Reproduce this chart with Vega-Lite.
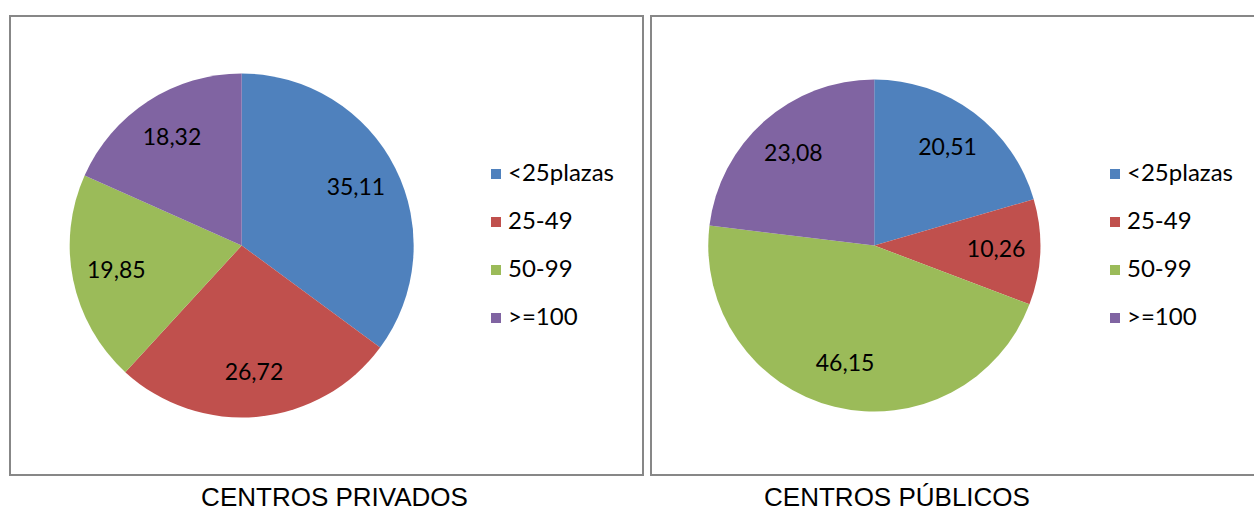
{
  "$schema": "https://vega.github.io/schema/vega-lite/v6.json",
  "padding": {"left": 9, "top": 15, "right": 0, "bottom": 0},
  "background": "white",
  "config": {
    "view": {"stroke": "#878787", "strokeWidth": 2},
    "locale": {"number": {"decimal": ",", "thousands": ".", "grouping": [3], "currency": ["", " €"]}},
    "legend": {
      "symbolType": "square", "symbolSize": 100, "symbolStrokeWidth": 0,
      "labelFont": "Lato", "labelFontSize": 24, "labelColor": "black",
      "labelOffset": 0, "rowPadding": 24, "padding": 0, "title": null
    }
  },
  "data": {"values": [
    {"centro": "CENTROS PRIVADOS", "tamano": "<25plazas", "orden": 1, "valor": 35.11},
    {"centro": "CENTROS PRIVADOS", "tamano": "25-49", "orden": 2, "valor": 26.72},
    {"centro": "CENTROS PRIVADOS", "tamano": "50-99", "orden": 3, "valor": 19.85},
    {"centro": "CENTROS PRIVADOS", "tamano": ">=100", "orden": 4, "valor": 18.32},
    {"centro": "CENTROS PÚBLICOS", "tamano": "<25plazas", "orden": 1, "valor": 20.51},
    {"centro": "CENTROS PÚBLICOS", "tamano": "25-49", "orden": 2, "valor": 10.26},
    {"centro": "CENTROS PÚBLICOS", "tamano": "50-99", "orden": 3, "valor": 46.15},
    {"centro": "CENTROS PÚBLICOS", "tamano": ">=100", "orden": 4, "valor": 23.08}
  ]},
  "spacing": 6,
  "resolve": {"scale": {"color": "independent", "x": "independent"}, "legend": {"color": "independent"}},
  "hconcat": [
    {
      "width": 633, "height": 459,
      "title": {"text": "CENTROS PRIVADOS", "orient": "bottom", "font": "Liberation Sans", "fontSize": 26, "fontWeight": "normal", "color": "black", "offset": 10, "dx": 8, "frame": "group"},
      "transform": [{"filter": "datum.centro === 'CENTROS PRIVADOS'"}],
      "encoding": {
        "theta": {"field": "valor", "type": "quantitative", "stack": true},
        "order": {"field": "orden", "type": "ordinal"},
        "x": {"field": "centro", "type": "nominal", "axis": null, "scale": {"type": "point", "align": 0.366}}
      },
      "layer": [
        {
          "mark": {"type": "arc", "outerRadius": 172},
          "encoding": {
            "color": {"field": "tamano", "type": "nominal",
              "scale": {"domain": ["<25plazas", "25-49", "50-99", ">=100"], "range": ["#4F81BD", "#C0504D", "#9BBB59", "#8064A2"]},
              "legend": {"orient": "none", "legendX": 474, "legendY": 146}}
          }
        },
        {
          "mark": {"type": "text", "radius": 128, "font": "Lato", "fontSize": 23, "color": "black"},
          "encoding": {
            "text": {"field": "valor", "type": "quantitative", "format": ".2f"},
            "detail": {"field": "tamano", "type": "nominal"}
          }
        }
      ]
    },
    {
      "width": 610, "height": 459,
      "title": {"text": "CENTROS PÚBLICOS", "orient": "bottom", "font": "Liberation Sans", "fontSize": 26, "fontWeight": "normal", "color": "black", "offset": 10, "dx": -59, "frame": "group"},
      "transform": [{"filter": "datum.centro === 'CENTROS PÚBLICOS'"}],
      "encoding": {
        "theta": {"field": "valor", "type": "quantitative", "stack": true},
        "order": {"field": "orden", "type": "ordinal"},
        "x": {"field": "centro", "type": "nominal", "axis": null, "scale": {"type": "point", "align": 0.366}}
      },
      "layer": [
        {
          "mark": {"type": "arc", "outerRadius": 166},
          "encoding": {
            "color": {"field": "tamano", "type": "nominal",
              "scale": {"domain": ["<25plazas", "25-49", "50-99", ">=100"], "range": ["#4F81BD", "#C0504D", "#9BBB59", "#8064A2"]},
              "legend": {"orient": "none", "legendX": 452, "legendY": 146}}
          }
        },
        {
          "mark": {"type": "text", "radius": 122, "font": "Lato", "fontSize": 23, "color": "black"},
          "encoding": {
            "text": {"field": "valor", "type": "quantitative", "format": ".2f"},
            "detail": {"field": "tamano", "type": "nominal"}
          }
        }
      ]
    }
  ]
}
